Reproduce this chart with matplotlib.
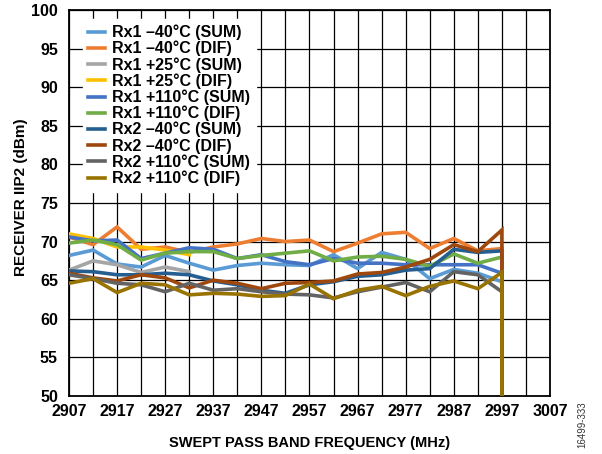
"""
Receiver IIP2 vs swept pass band frequency, Rx1/Rx2 at three temperatures,
sum and difference products.

Output: out.png (602 x 454 px)
"""

import numpy as np
import matplotlib
matplotlib.use("Agg")
import matplotlib.pyplot as plt

# Swept frequency, MHz (every 5 MHz from 2907 to 2997)
FREQ = np.arange(2907, 2998, 5)
X_TICKS = np.arange(2907, 3008, 10)
Y_TICKS = np.arange(50, 101, 5)

LABELS = [
    "Rx1 \u201340°C (SUM)",
    "Rx1 \u201340°C (DIF)",
    "Rx1 +25°C (SUM)",
    "Rx1 +25°C (DIF)",
    "Rx1 +110°C (SUM)",
    "Rx1 +110°C (DIF)",
    "Rx2 \u201340°C (SUM)",
    "Rx2 \u201340°C (DIF)",
    "Rx2 +110°C (SUM)",
    "Rx2 +110°C (DIF)",
]

# IIP2 readings in dBm (+25°C sweeps only cover the first six steps)
rx1_m40_sum = [68.2, 68.9, 67.1, 66.7, 68.2, 67.2, 66.3, 66.9, 67.2, 67.0,
               66.9, 68.3, 66.5, 68.6, 67.7, 65.2, 66.4, 65.9, 64.8]
rx1_m40_dif = [70.6, 69.6, 71.9, 69.0, 69.3, 68.6, 69.3, 69.7, 70.4, 70.0,
               70.2, 68.7, 69.8, 71.0, 71.2, 69.1, 70.4, 68.8, 69.1]
rx1_p25_sum = [66.3, 67.5, 67.0, 66.0, 66.7, 66.1]
rx1_p25_dif = [71.0, 70.4, 69.3, 69.3, 68.9, 68.3]
rx1_p110_sum = [70.6, 70.1, 70.2, 67.8, 68.5, 69.2, 69.0, 67.8, 68.3, 67.4,
                67.0, 67.8, 67.2, 67.2, 67.0, 67.0, 67.0, 67.0, 65.9]
rx1_p110_dif = [69.8, 70.2, 69.6, 67.6, 68.5, 68.7, 68.7, 67.8, 68.2, 68.5,
                68.8, 67.5, 68.0, 68.1, 67.7, 66.8, 68.4, 67.2, 68.0]
rx2_m40_sum = [66.2, 66.1, 65.7, 65.7, 65.9, 65.7, 64.9, 64.4, 63.7, 63.3,
               64.4, 64.8, 65.5, 65.7, 66.3, 66.5, 69.0, 68.6, 68.8]
rx2_m40_dif = [65.9, 65.3, 64.9, 65.7, 65.3, 64.0, 65.0, 64.6, 63.9, 64.6,
               64.7, 64.9, 65.8, 66.0, 66.7, 67.7, 69.6, 68.7, 71.5]
rx2_p110_sum = [65.7, 65.2, 64.6, 64.4, 63.5, 64.6, 63.7, 63.9, 63.5, 63.2,
                63.1, 62.7, 63.5, 64.1, 64.7, 63.5, 66.1, 65.7, 63.5]
rx2_p110_dif = [64.6, 65.2, 63.4, 64.6, 64.4, 63.1, 63.3, 63.2, 62.9, 63.0,
                64.5, 62.6, 63.7, 64.2, 63.0, 64.2, 64.9, 63.9, 66.0]

SERIES = [rx1_m40_sum, rx1_m40_dif, rx1_p25_sum, rx1_p25_dif,
          rx1_p110_sum, rx1_p110_dif, rx2_m40_sum, rx2_m40_dif,
          rx2_p110_sum, rx2_p110_dif]

COLORS = ["#5B9BD5", "#ED7D31", "#A5A5A5", "#FFC000", "#4472C4",
          "#70AD47", "#255E91", "#9E480E", "#636363", "#997300"]

Y_MIN, Y_MAX = 50, 100

plt.rcParams.update({
    "font.family": ["Liberation Sans", "DejaVu Sans"],
    "font.weight": "bold",
    "font.size": 11.5,
})

fig = plt.figure(figsize=(6.02, 4.54), dpi=100)
ax = fig.add_axes([0.1146, 0.1278, 0.799, 0.8502])

for vals, color, label, z in zip(SERIES, COLORS, LABELS, range(len(SERIES))):
    x = FREQ[:len(vals)]
    y = np.asarray(vals, dtype=float)
    if len(vals) == len(FREQ):
        # full sweeps fall off to the axis floor after the last step
        x = np.append(x, x[-1])
        y = np.append(y, Y_MIN - 10)
    ax.plot(x, y, color=color, lw=2.6, label=label, zorder=3 + z,
            solid_joinstyle="miter")

ax.set_xlim(2907, 3007)
ax.set_ylim(Y_MIN, Y_MAX)
ax.set_xticks(X_TICKS)
ax.set_xticks(X_TICKS[:-1] + 5, minor=True)
ax.set_yticks(Y_TICKS)
ax.grid(which="both", color="black", lw=0.9, zorder=1)
ax.set_axisbelow(True)
ax.tick_params(which="both", length=0, labelsize=11.5)
ax.tick_params(axis="y", pad=8)
ax.tick_params(axis="x", pad=6)
for s in ax.spines.values():
    s.set_linewidth(1.3)
    s.set_color("black")

ax.set_xlabel("SWEPT PASS BAND FREQUENCY (MHz)", fontsize=10.5,
              fontweight="bold", labelpad=12)
ax.set_ylabel("RECEIVER IIP2 (dBm)", fontsize=11, fontweight="bold")
ax.yaxis.set_label_coords(-0.085, 0.515)

leg = ax.legend(loc="upper left", bbox_to_anchor=(0.012, 0.997),
                frameon=True, fancybox=False, framealpha=1,
                edgecolor="white", facecolor="white",
                handlelength=1.05, handletextpad=0.45,
                labelspacing=0.04, borderpad=0.35,
                prop={"weight": "bold", "size": 11.5})
leg.set_zorder(20)

fig.text(0.968, 0.064, "16499-333", rotation=90, ha="center", va="center",
         fontsize=7, fontweight="normal", color="#333333")

fig.savefig("out.png", dpi=100)
